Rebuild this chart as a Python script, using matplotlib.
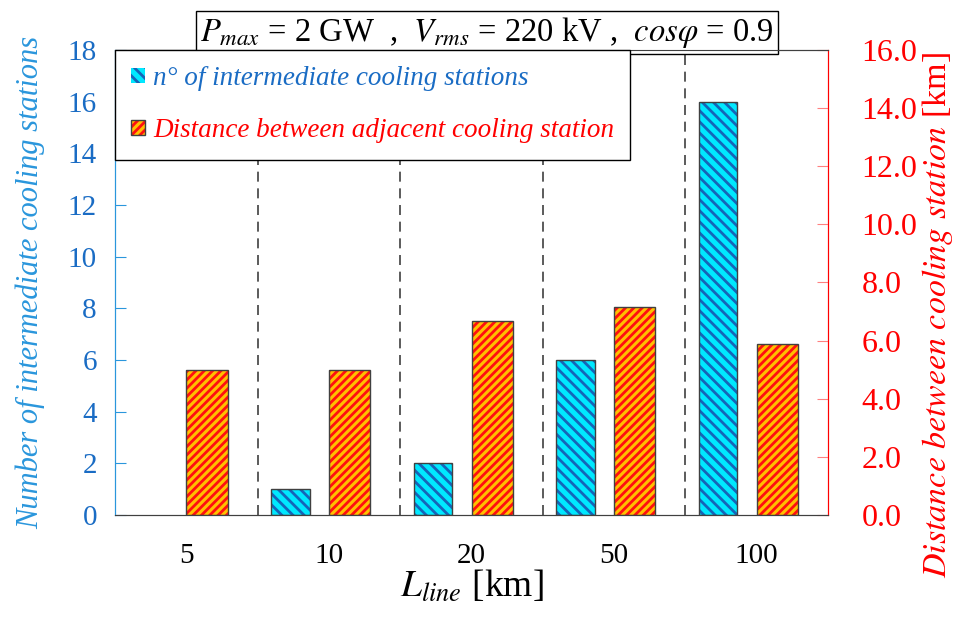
import numpy as np
import matplotlib
matplotlib.use('Agg')
import matplotlib.pyplot as plt

plt.rcParams['font.family'] = ['Liberation Serif', 'DejaVu Serif']
plt.rcParams['mathtext.fontset'] = 'stix'
plt.rcParams['hatch.linewidth'] = 2.0

# data
lengths = ['5', '10', '20', '50', '100']
n_stations = [0, 1, 2, 6, 16]
distance = [5.0, 5.0, 6.67, 7.14, 5.88]

blue_tick = '#1a6cc4'
blue_lab = '#2a96dc'
red = '#ff0000'

fig = plt.figure(figsize=(9.57, 6.17), dpi=100)
ax = fig.add_axes([0.1202, 0.1653, 0.745, 0.7537])
ax2 = ax.twinx()

x = np.arange(len(lengths))

# cyan bars (left axis)
b1 = ax.bar(x - 0.27, n_stations, width=0.27, color='#00e8ff', hatch='\\\\\\',
            edgecolor='#1565b8', linewidth=0, zorder=2)
b1e = ax.bar(x - 0.27, n_stations, width=0.27, fill=False, edgecolor='#404040',
             linewidth=[1.0 if v > 0 else 0 for v in n_stations], zorder=3)
# orange bars (right axis)
b2 = ax2.bar(x + 0.145, distance, width=0.29, color='#ffc000', hatch='////',
             edgecolor='#ff1010', linewidth=0, zorder=2)
b2e = ax2.bar(x + 0.145, distance, width=0.29, fill=False,
              edgecolor='#404040', linewidth=1.0, zorder=3)

# dashed separators
for xs in x[:-1] + 0.5:
    ax.axvline(xs, color='#404040', linestyle=(0, (6, 4)), linewidth=1.2, zorder=1)

ax.set_xlim(-0.5, 4.5)
ax.set_ylim(0, 18)
ax2.set_ylim(0, 16)
ax.set_yticks(np.arange(0, 19, 2))
ax2.set_yticks(np.arange(0, 17, 2))
ax2.set_yticklabels(['%.1f' % v for v in np.arange(0, 17, 2)])

ax.set_xticks(x)
ax.set_xticklabels(lengths)
ax.tick_params(axis='x', length=0, labelsize=21, pad=20)
ax.tick_params(axis='y', direction='in', length=8, color=blue_lab,
               labelcolor=blue_tick, labelsize=21, pad=13)
ax2.tick_params(axis='y', direction='in', length=8, color='#ff8080',
                labelcolor=red, labelsize=23, pad=24)

for a in (ax, ax2):
    a.spines['left'].set_color(blue_lab)
    a.spines['right'].set_color(red)
    a.spines['bottom'].set_color('#404040')
    a.spines['top'].set_color('#404040')

ax.set_ylabel('Number of intermediate cooling stations', color=blue_lab,
              fontsize=22, style='italic', labelpad=16)
ax2.set_ylabel(r'$\it{Distance\ between\ cooling\ station}$ [km]', color=red,
               fontsize=24.5, labelpad=2)
ax2.yaxis.label.set_y(0.43)
ax.set_xlabel(r'$L_{line}$ [km]', fontsize=27, labelpad=0)

# parameters box
ax.text(0.522, 1.0, r'$P_{max}$ = 2 GW  ,  $V_{rms}$ = 220 kV ,  $cos\varphi$ = 0.9',
        transform=ax.transAxes, ha='center', va='bottom', fontsize=23.5,
        bbox=dict(boxstyle='square,pad=0.12', facecolor='white', edgecolor='black'))

leg = ax2.legend([(b1[0], b1e[0]), (b2[0], b2e[0])],
                 ['n° of intermediate cooling stations',
                  'Distance between adjacent cooling station'],
                 loc='upper left', bbox_to_anchor=(0, 1),
                 prop={'style': 'italic', 'size': 19.5},
                 labelcolor=[blue_tick, red], fancybox=False,
                 edgecolor='black', framealpha=1, handlelength=0.5,
                 handleheight=0.5, handletextpad=0.3, labelspacing=1.0,
                 borderpad=0.6, borderaxespad=0)
leg.get_frame().set_linewidth(1.0)
leg.set_zorder(5)

fig.savefig('out.png', dpi=100)
